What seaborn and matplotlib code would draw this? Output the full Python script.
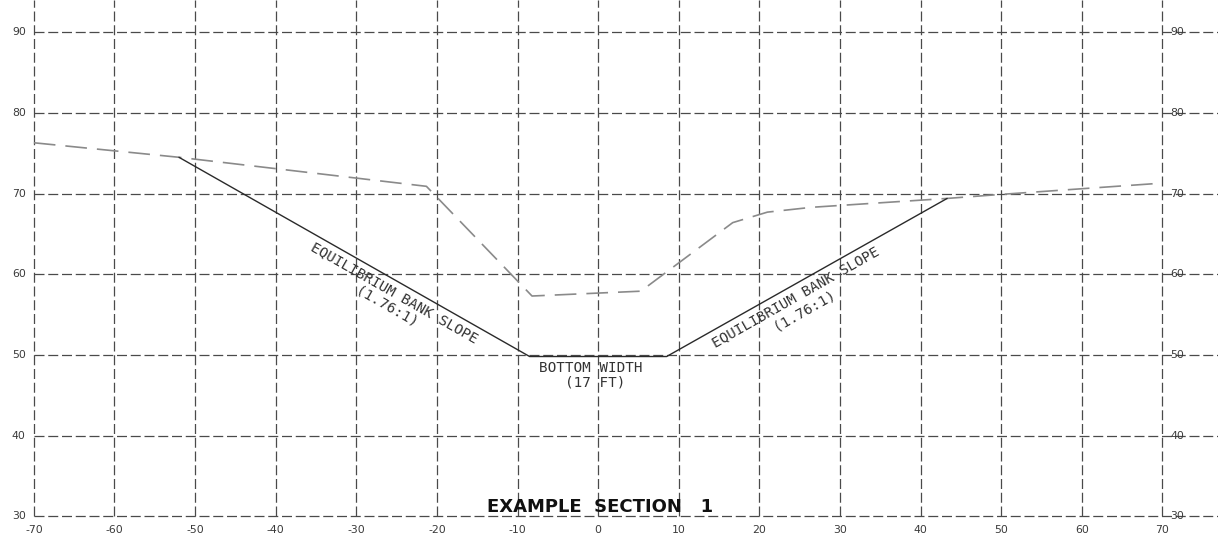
import matplotlib
matplotlib.use("Agg")
import matplotlib.pyplot as plt
import seaborn as sns
import pandas as pd

# === 断面数据 ===
# 现状地面线（虚线）
ground_x = [-70, -52, -21.3, -8.2, 5.3, 16.7, 21.0, 26.5, 43.3, 50, 70]
ground_y = [76.3, 74.5, 70.9, 57.3, 57.9, 66.4, 67.7, 68.3, 69.4, 69.9, 71.3]

# 平衡岸坡设计线（实线）
design_x = [-52, -8.5, 8.5, 43.3]
design_y = [74.5, 49.8, 49.8, 69.4]

x_ticks = [-70, -60, -50, -40, -30, -20, -10, 0, 10, 20, 30, 40, 50, 60, 70]
y_ticks = [30, 40, 50, 60, 70, 80, 90]

ground = pd.DataFrame({"x": ground_x, "y": ground_y})
design = pd.DataFrame({"x": design_x, "y": design_y})

sns.set_style("white")
plt.rcParams['font.family'] = ['DejaVu Sans']

fig = plt.figure(figsize=(12.18, 5.38), dpi=100)
ax = fig.add_axes([0, 0, 1, 1])
ax.set_xlim(-74.2, 76.9)
ax.set_ylim(27.3, 94.0)
ax.axis("off")

# 网格线
grid_kw = dict(color="#4a4a4a", linewidth=0.9, linestyles=(0, (8, 3)))
ax.vlines(x_ticks, 30, 94.0, **grid_kw)
ax.hlines(y_ticks, -70, 76.9, **grid_kw)

# 刻度标签
lab_kw = dict(fontsize=7.8, color="#3a3a3a")
for t in y_ticks:
    ax.text(-71.0, t, str(t), ha="right", va="center", **lab_kw)
    ax.text(71.8, t, str(t), ha="center", va="center", **lab_kw)
for t in x_ticks:
    ax.text(t, 28.3, str(t), ha="center", va="center", **lab_kw)

# 线条
sns.lineplot(data=ground, x="x", y="y", sort=False, ax=ax, color="#8a8a8a",
             linewidth=1.2, linestyle=(0, (13, 6)))
sns.lineplot(data=design, x="x", y="y", sort=False, ax=ax, color="#2a2a2a",
             linewidth=1.0)

# 注记
txt_kw = dict(fontsize=10.3, color="#333333", ha="center", va="center",
              rotation_mode="anchor", family="DejaVu Sans Mono")
ax.text(-25.25, 57.7, "EQUILIBRIUM BANK SLOPE", rotation=-29.6, **txt_kw)
ax.text(-26.2, 55.9, "(1.76:1)", rotation=-29.6, **txt_kw)
ax.text(24.5, 57.2, "EQUILIBRIUM BANK SLOPE", rotation=29.6, **txt_kw)
ax.text(25.6, 55.5, "(1.76:1)", rotation=29.6, **txt_kw)
ax.text(-0.9, 48.4, "BOTTOM WIDTH", **txt_kw)
ax.text(-0.4, 46.6, "(17 FT)", **txt_kw)

ax.text(0.2, 31.2, "EXAMPLE  SECTION   1", fontsize=13, fontweight="bold",
        ha="center", va="center", color="#111111")

fig.savefig("out.png", dpi=100)
